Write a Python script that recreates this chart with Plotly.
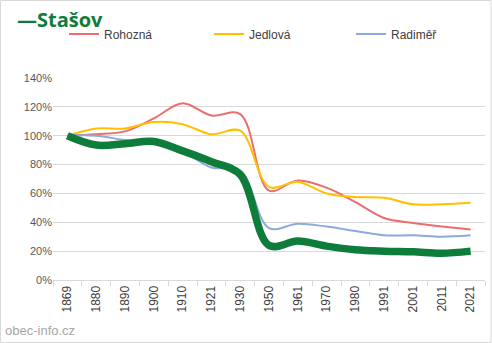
import plotly.graph_objects as go

years = ["1869", "1880", "1890", "1900", "1910", "1921", "1930", "1950",
         "1961", "1970", "1980", "1991", "2001", "2011", "2021"]
stasov = [100, 93.5, 94.5, 96, 89.5, 82, 73, 24, 27, 23.5, 21, 20, 19.5, 18.5, 20]
rohozna = [100, 101, 103, 112, 122.5, 114, 115, 62, 69, 64, 54, 43, 39.5, 37, 35]
jedlova = [100, 105, 105, 109.5, 108, 101, 103.5, 64.5, 68, 60, 57.5, 57, 52.5, 52.5, 53.5]
radimer = [100, 100, 97, 95, 89, 78, 76, 36, 39, 37, 34, 31, 31, 30, 31]

W, H = 492, 343
L, R, T, B = 53, 7, 78, 63
PW, PH = W - L - R, H - T - B

fig = go.Figure()
series = [("Rohozná", rohozna, "#EB6E6E", "legend", 64),
          ("Jedlová", jedlova, "#FFC000", "legend2", 209),
          ("Radiměř", radimer, "#8EA9DB", "legend3", 351)]
legends = {}
for name, vals, col, lg, px in series:
    fig.add_trace(go.Scatter(x=years, y=vals, name=name, mode="lines", legend=lg,
                             line=dict(color=col, width=2, shape="spline", smoothing=1)))
    legends[lg] = dict(orientation="h", x=(px - L) / PW, xanchor="left",
                       y=1 + (T - 34) / PH, yanchor="middle",
                       font=dict(size=12, color="#404040"), itemwidth=30,
                       bgcolor="rgba(0,0,0,0)")
fig.add_trace(go.Scatter(x=years, y=stasov, name="Stašov", mode="lines", showlegend=False,
                         line=dict(color="#0E7C3A", width=7.5, shape="spline", smoothing=1)))

fig.update_layout(
    width=W, height=H,
    margin=dict(l=L, r=R, t=T, b=B, autoexpand=False),
    paper_bgcolor="white", plot_bgcolor="white",
    font=dict(family="Liberation Sans, Arial, sans-serif", color="#595959"),
    title=dict(text="<b>—Stašov</b>", x=17/W, xanchor="left", y=1 - 20/H, yanchor="middle",
               font=dict(size=20, color="#0E7C3A", family="Open Sans, Liberation Sans, sans-serif")),
    xaxis=dict(type="category", range=[-0.5, 14.5], showgrid=False, showline=True, linecolor="#D9D9D9",
               ticks="outside", tickson="boundaries", ticklen=5, tickcolor="#D9D9D9",
               tickangle=-90, tickfont=dict(size=12, color="#404040"), fixedrange=True),
    yaxis=dict(range=[0, 140], dtick=20, ticksuffix="%", showgrid=True, gridcolor="#D9D9D9",
               zeroline=False, tickfont=dict(size=11, color="#595959"), ticklen=0,
               showline=False, fixedrange=True),
    shapes=[dict(type="rect", xref="paper", yref="paper",
                 x0=-L/PW + 0.5/PW, x1=1 + R/PW - 1/PW,
                 y0=-B/PH + 0.5/PH, y1=1 + T/PH - 0.5/PH,
                 line=dict(color="#D9D9D9", width=1), layer="below")],
    annotations=[dict(text="obec-info.cz", xref="paper", yref="paper",
                      x=-50/PW, y=-(330 - T - PH) / PH, xanchor="left", yanchor="middle", showarrow=False,
                      font=dict(size=13, color="#A6A6A6"))],
    **legends,
)
fig.write_html("out.html")
